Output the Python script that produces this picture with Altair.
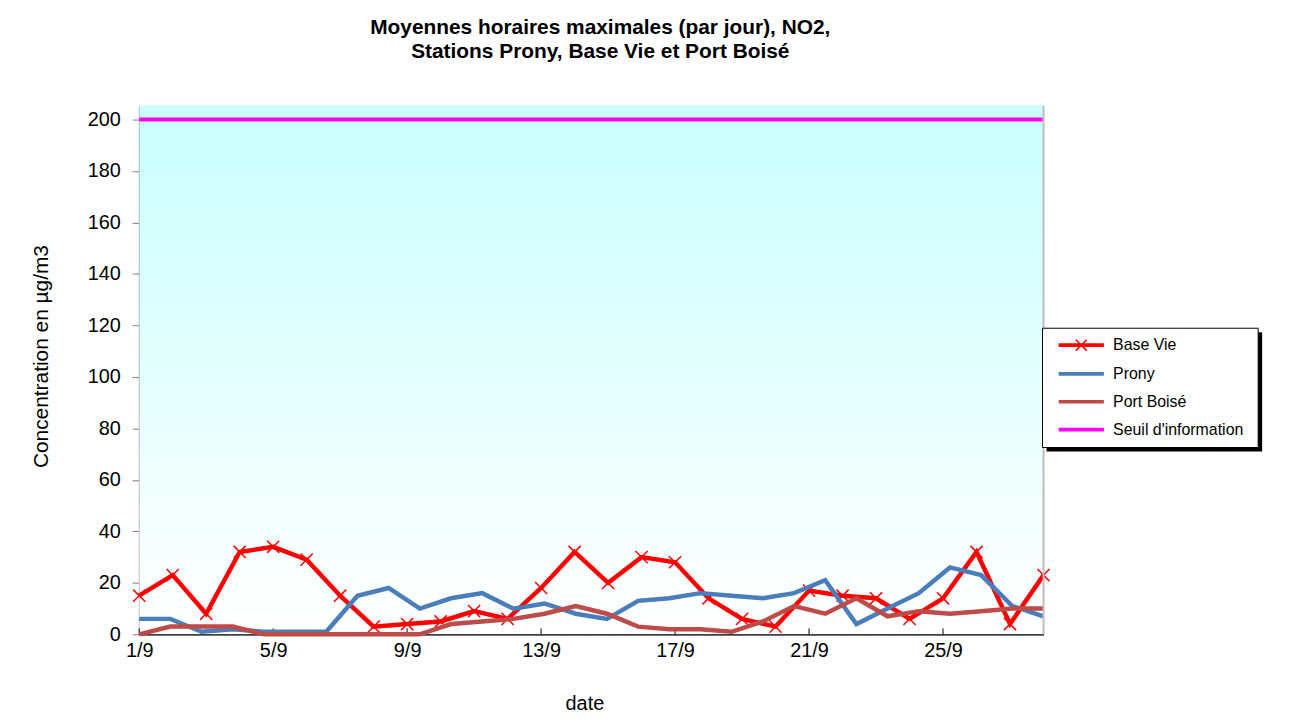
import altair as alt
import pandas as pd

# ---- data ----
bv_dates = ["1/9", "2/9", "3/9", "4/9", "5/9", "6/9", "7/9", "8/9", "9/9", "10/9",
            "11/9", "12/9", "13/9", "14/9", "15/9", "16/9", "17/9", "18/9", "19/9", "20/9",
            "21/9", "22/9", "23/9", "24/9", "25/9", "26/9", "27/9", "28/9"]
base_vie = [15, 23, 8, 32, 34, 29, 15, 3, 4, 5, 9, 6, 18, 32, 20, 30, 28, 14, 6, 3,
            17, 15, 14, 6, 14, 32, 4, 23]

station_dates = bv_dates + ["29/9", "30/9"]
prony = [6, 6, 1, 2, 1, 1, 1, 15, 18, 10, 14, 16, 10, 12, 8, 6, 13, 14, 16, 15,
         14, 16, 21, 4, 10, 16, 26, 23, 11, 7]
port_boise = [0, 3, 3, 3, 0, 0, 0, 0, 0, 0, 4, 5, 6, 8, 11, 8, 3, 2, 2, 1,
              5, 11, 8, 14, 7, 9, 8, 9, 10, 10]
seuil = [200]

x_labels = ["1/9", "5/9", "9/9", "13/9", "17/9", "21/9", "25/9"]
y_ticks = [0, 20, 40, 60, 80, 100, 120, 140, 160, 180, 200]
series = ["Base Vie", "Prony", "Port Boisé", "Seuil d'information"]
colors = ["#ff0000", "#4a7ebb", "#be4b48", "#ff00ff"]

W, H = 910, 532
FONT = "Liberation Sans"
LW = 4.5

bv_df = pd.DataFrame({"date": bv_dates, "value": base_vie})
pr_df = pd.DataFrame({"date": station_dates, "value": prony})
pb_df = pd.DataFrame({"date": station_dates, "value": port_boise})
seuil_df = pd.DataFrame({"value": seuil})
tick_df = pd.DataFrame({"date": x_labels})
legend_df = pd.DataFrame({"series": series})
one = pd.DataFrame({"k": [0]})

yenc = alt.Y("value:Q",
             scale=alt.Scale(domain=[0, 205.4], nice=False),
             axis=alt.Axis(values=y_ticks, title="Concentration en µg/m3",
                           titleX=-88, titleY=252, titleAngle=-90,
                           labelFontSize=20, labelFont=FONT, labelPadding=12,
                           titleFontSize=21, titleFont=FONT, titleFontWeight="normal",
                           tickSize=7, tickColor="#808080", domainColor="#000000",
                           domainWidth=1.5, grid=True, gridColor="#8c8c8c",
                           gridDash=[2, 1], gridWidth=1, labelColor="#000", titleColor="#000"))

# background gradient of the plot area
bg = alt.Chart(one).mark_rect(
    color=alt.Gradient(gradient="linear",
                       stops=[alt.GradientStop(color="#c8ffff", offset=0),
                              alt.GradientStop(color="#ffffff", offset=1)],
                       x1=0, x2=0, y1=0, y2=1)
).encode(x=alt.value(0), x2=alt.value(W), y=alt.value(0), y2=alt.value(H))

# right border of plot (gray)
right_border = alt.Chart(one).mark_rule(color="#c0c0c0", strokeWidth=2).encode(
    x=alt.value(W), y=alt.value(0), y2=alt.value(H))

# legend box with shadow (decoration)
shadow = alt.Chart(one).mark_rect(fill="#000000").encode(
    x=alt.value(913), x2=alt.value(1130), y=alt.value(228), y2=alt.value(348))
lbox = alt.Chart(one).mark_rect(fill="#ffffff", stroke="#000000", strokeWidth=1).encode(
    x=alt.value(909), x2=alt.value(1126), y=alt.value(224), y2=alt.value(344))

xbv = alt.X("date:O",
            scale=alt.Scale(type="point", padding=0, domain=bv_dates),
            axis=alt.Axis(values=x_labels, labelAngle=0, ticks=False, title="date",
                          labelFontSize=20, labelFont=FONT, labelPadding=6,
                          titleFontSize=20, titleFont=FONT, titleFontWeight="normal",
                          titlePadding=34, titleX=448, domainColor="#000000", domainWidth=1.5,
                          labelColor="#000", titleColor="#000", grid=False))

bv_line = alt.Chart(bv_df).mark_line(strokeWidth=LW, color=colors[0]).encode(x=xbv, y=yenc)
bv_pts = alt.Chart(bv_df).mark_point(
    shape="M-1,-1L1,1M-1,1L1,-1", size=150, strokeWidth=1.5, filled=False, opacity=1,
    color=colors[0]
).encode(x=xbv, y=yenc)
xticks = alt.Chart(tick_df).mark_rule(color="#000000", strokeWidth=1).encode(
    x=xbv, y=alt.value(H - 6), y2=alt.value(H))
bv_layer = alt.layer(bv_line, bv_pts, xticks)

xst = alt.X("date:O", scale=alt.Scale(type="point", padding=0, domain=station_dates), axis=None)
pr_line = alt.Chart(pr_df).mark_line(strokeWidth=LW, color=colors[1]).encode(x=xst, y=yenc)
pb_line = alt.Chart(pb_df).mark_line(strokeWidth=LW, color=colors[2]).encode(x=xst, y=yenc)
st_layer = alt.layer(pr_line, pb_line)

seuil_rule = alt.Chart(seuil_df).mark_rule(strokeWidth=4, color=colors[3]).encode(y=yenc)

# legend-only layer (no visible marks)
line_path = "M0,-0.1H4V0.1H0Z"
cross_path = "M0,-0.1H4V0.1H0ZM1.5,-0.5L2.5,0.5M1.5,0.5L2.5,-0.5"
leg = alt.Legend(title=None, orient="none", legendX=909, legendY=224, padding=5,
                 symbolSize=484, labelOffset=42, rowPadding=8, labelFontSize=16,
                 labelFont=FONT, labelColor="#000", symbolStrokeWidth=1.5,
                 symbolOpacity=1)
legend_layer = alt.Chart(legend_df).transform_filter("false").mark_point(
    filled=True, opacity=1, strokeWidth=1.5
).encode(
    color=alt.Color("series:N", scale=alt.Scale(domain=series, range=colors), legend=leg),
    stroke=alt.Stroke("series:N", scale=alt.Scale(domain=series, range=colors), legend=leg),
    shape=alt.Shape("series:N", scale=alt.Scale(domain=series,
                                                range=[cross_path, line_path, line_path, line_path]),
                    legend=leg),
)

chart = alt.layer(
    bg, bv_layer, st_layer, seuil_rule, right_border, shadow, lbox, legend_layer
).resolve_scale(x="independent").properties(
    width=W, height=H,
    autosize=alt.AutoSizeParams(type="none"),
    padding={"left": 132, "top": 96, "right": 242, "bottom": 91},
    title=alt.TitleParams(
        text=["Moyennes horaires maximales (par jour), NO2,", "Stations Prony, Base Vie et Port Boisé"],
        font=FONT, fontSize=21, fontWeight="bold", anchor="middle", dx=9, offset=43,
        lineHeight=24, color="#000"),
).configure_view(stroke="#000000", strokeWidth=1.5).configure(background="#ffffff")

chart.save("out.html", embed_options={"renderer": "svg", "actions": False})
